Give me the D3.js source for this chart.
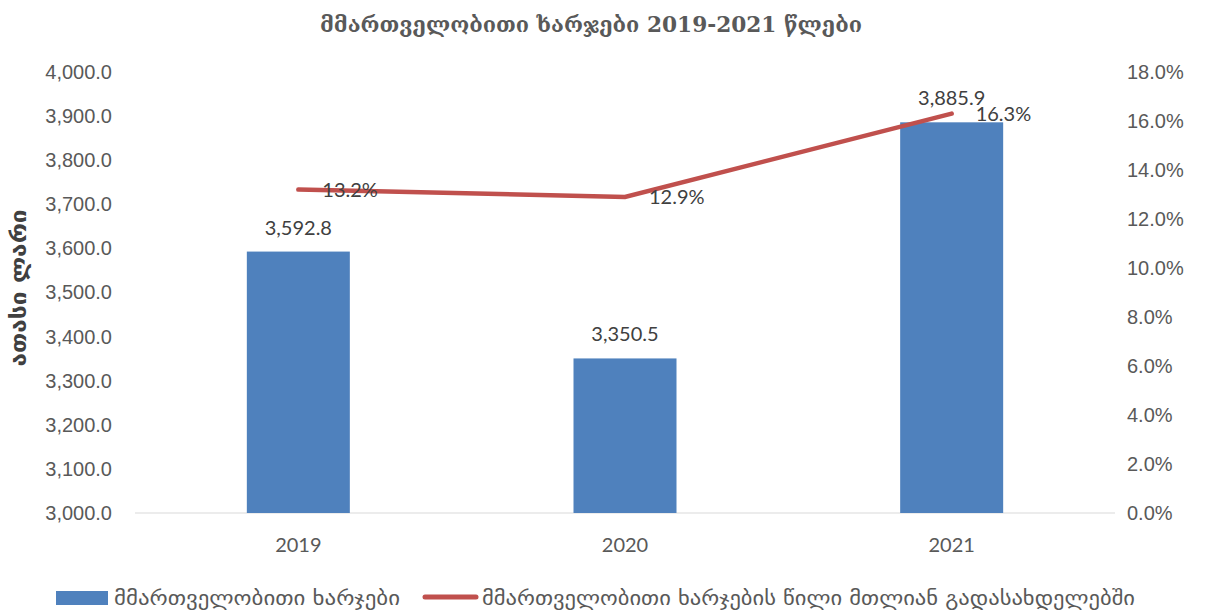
<!DOCTYPE html>
<html lang="ka">
<head>
<meta charset="UTF-8">
<title>მმართველობითი ხარჯები</title>
<script src="https://d3js.org/d3.v7.min.js"></script>
<style>
    body{
        margin: 0;
        background: white;
    }
    svg{
        display: block;
        font-family: Lato, "DejaVu Sans", sans-serif;
    }
</style>
</head>
<body>
<svg></svg>
<script>
    const years = ['2019', '2020', '2021'];
    const expenses = [3592.8, 3350.5, 3885.9];
    const shares = [13.2, 12.9, 16.3];
    const leftTicks = d3.range(3000, 4001, 100);
    const rightTicks = d3.range(0, 18.1, 2);

    const width = 1207, height = 610;
    const margin = {top: 72, right: 92, bottom: 97, left: 135};
    const textColor = '#595959';
    const numSize = '20px';

    const svg = d3.select('svg')
        .attr('width', width)
        .attr('height', height);

    const x = d3.scaleBand()
        .domain(years)
        .range([margin.left, width - margin.right]);

    const yL = d3.scaleLinear()
        .domain([3000, 4000])
        .range([height - margin.bottom, margin.top]);

    const yR = d3.scaleLinear()
        .domain([0, 18])
        .range([height - margin.bottom, margin.top]);

    const fmtL = d3.format(',.1f');
    const fmtR = d => d.toFixed(1) + '%';

    /* left axis */
    const axL = svg.append('g')
        .attr('transform', `translate(${margin.left},0)`)
        .call(d3.axisLeft(yL).tickValues(leftTicks).tickFormat(fmtL).tickSize(0).tickPadding(23));
    axL.select('.domain').remove();
    axL.selectAll('text').attr('fill', textColor).style('font-size', numSize);

    /* right axis */
    const axR = svg.append('g')
        .attr('transform', `translate(${width - margin.right},0)`)
        .call(d3.axisRight(yR).tickValues(rightTicks).tickFormat(fmtR).tickSize(0).tickPadding(12));
    axR.select('.domain').remove();
    axR.selectAll('text').attr('fill', textColor).style('font-size', numSize);

    /* baseline */
    svg.append('line')
        .attr('x1', margin.left).attr('x2', width - margin.right)
        .attr('y1', yL(3000)).attr('y2', yL(3000))
        .attr('stroke', '#d9d9d9').attr('stroke-width', 1);

    /* x axis labels */
    svg.append('g').selectAll('text')
        .data(years)
        .join('text')
        .attr('x', d => x(d) + x.bandwidth() / 2)
        .attr('y', yL(3000) + 39)
        .attr('text-anchor', 'middle')
        .attr('fill', textColor)
        .style('font-size', numSize)
        .text(d => d);

    /* bars */
    const barW = 103;
    svg.append('g').selectAll('rect')
        .data(expenses)
        .join('rect')
        .attr('x', (d, i) => x(years[i]) + x.bandwidth() / 2 - barW / 2)
        .attr('y', d => yL(d))
        .attr('width', barW)
        .attr('height', d => yL(3000) - yL(d))
        .attr('fill', '#4F81BD');

    /* bar labels */
    svg.append('g').selectAll('text')
        .data(expenses)
        .join('text')
        .attr('x', (d, i) => x(years[i]) + x.bandwidth() / 2)
        .attr('y', d => yL(d) - 17)
        .attr('text-anchor', 'middle')
        .attr('fill', '#404040')
        .style('font-size', numSize)
        .text(d => fmtL(d));

    /* share line */
    const line = d3.line()
        .x((d, i) => x(years[i]) + x.bandwidth() / 2)
        .y(d => yR(d));
    svg.append('path')
        .datum(shares)
        .attr('d', line)
        .attr('fill', 'none')
        .attr('stroke', '#C0504D')
        .attr('stroke-width', 4.5)
        .attr('stroke-linecap', 'round');

    svg.append('g').selectAll('text')
        .data(shares)
        .join('text')
        .attr('x', (d, i) => x(years[i]) + x.bandwidth() / 2 + 24)
        .attr('y', d => yR(d) + 7)
        .attr('fill', '#404040')
        .style('font-size', numSize)
        .text(d => d.toFixed(1) + '%');

    /* title */
    svg.append('text')
        .attr('x', 591)
        .attr('y', 32)
        .attr('text-anchor', 'middle')
        .attr('textLength', 542)
        .attr('lengthAdjust', 'spacingAndGlyphs')
        .attr('fill', textColor)
        .style('font-family', '"DejaVu Serif", serif')
        .style('font-weight', 'bold')
        .style('font-size', '22px')
        .text('მმართველობითი ხარჯები 2019-2021 წლები');

    /* y axis title */
    svg.append('text')
        .attr('transform', 'translate(26,288) rotate(-90)')
        .attr('text-anchor', 'middle')
        .attr('textLength', 157)
        .attr('lengthAdjust', 'spacingAndGlyphs')
        .attr('fill', '#404040')
        .style('font-family', '"DejaVu Sans", sans-serif')
        .style('font-weight', 'bold')
        .style('font-size', '21px')
        .text('ათასი ლარი');

    /* legend */
    const lg = svg.append('g').style('font-family', '"DejaVu Sans", sans-serif');
    lg.append('rect').attr('x', 56).attr('y', 591).attr('width', 52).attr('height', 14).attr('fill', '#4F81BD');
    lg.append('text').attr('x', 114).attr('y', 605).attr('fill', textColor).style('font-size', '20px')
        .attr('textLength', 286).attr('lengthAdjust', 'spacingAndGlyphs')
        .text('მმართველობითი ხარჯები');
    lg.append('line').attr('x1', 425).attr('x2', 476).attr('y1', 597).attr('y2', 597)
        .attr('stroke', '#C0504D').attr('stroke-width', 5).attr('stroke-linecap', 'round');
    lg.append('text').attr('x', 482).attr('y', 605).attr('fill', textColor).style('font-size', '20px')
        .attr('textLength', 653).attr('lengthAdjust', 'spacingAndGlyphs')
        .text('მმართველობითი ხარჯების წილი მთლიან გადასახდელებში');
</script>
</body>
</html>
